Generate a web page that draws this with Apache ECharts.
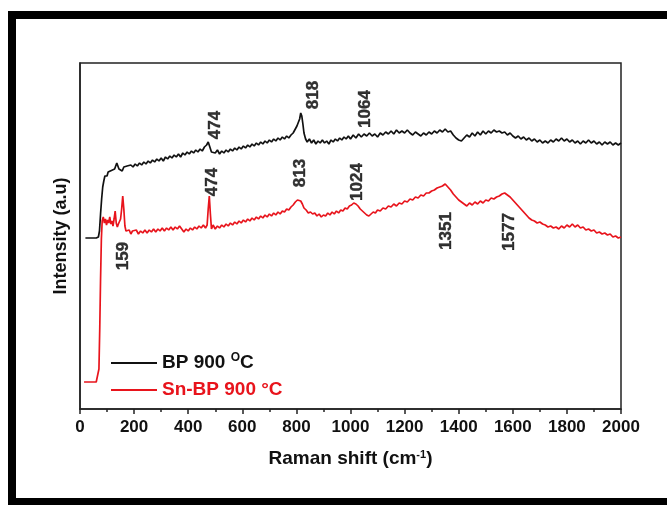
<!DOCTYPE html>
<html lang="en">
<head>
    <meta charset="UTF-8">
    <title>Raman spectra</title>
    <script src="https://cdn.jsdelivr.net/npm/echarts@6.0.0/dist/echarts.min.js"></script>
    <style>
        html, body { margin: 0; padding: 0; background: #fff; }
        #chart { width: 667px; height: 505px; }
    </style>
</head>
<body>
    <div id="chart"></div>
    <script>
        // Raman shift (cm-1), intensity (a.u)
        const bp900 = [
            [20,171],[40,171],[60,171],[68,172],[72,178],[76,195],[80,210],[84,222],[88,228],[92,233],[96,235],[100,233],[104,237],[108,235],[112,238],[116,236],[120,239],[124,237],[128,240],[132,243],[136,246],[140,243],[144,240],[150,241],[156,238],[162,242],[168,240],[174,243],[180,241],[188,244],[196,242],[204,245],[212,243],[220,246],[228,244],[236,247],[244,245],[252,248],[260,246],[268,249],[276,247],[284,250],[292,248],[300,251],[308,248],[316,252],[324,250],[332,253],[340,251],[348,254],[356,252],[364,255],[372,252],[380,256],[388,254],[396,257],[404,255],[412,258],[420,256],[428,259],[436,257],[444,260],[452,258],[460,262],[468,264],[474,267],[480,262],[486,257],[492,259],[500,256],[508,259],[516,255],[524,258],[532,256],[540,259],[548,257],[556,260],[564,258],[572,261],[580,259],[588,262],[596,260],[604,263],[612,261],[620,264],[628,262],[636,265],[644,263],[652,266],[660,264],[668,267],[676,265],[684,268],[692,266],[700,269],[708,267],[716,270],[724,268],[732,271],[740,269],[748,272],[756,270],[764,273],[772,271],[780,274],[788,276],[796,280],[802,283],[808,285],[812,290],[816,296],[820,293],[824,285],[828,276],[834,270],[840,267],[848,270],[856,266],[864,269],[872,265],[880,268],[888,266],[896,269],[904,266],[912,268],[920,265],[928,269],[936,267],[944,270],[952,268],[960,271],[968,269],[976,272],[984,270],[992,273],[1000,270],[1010,274],[1020,271],[1030,275],[1040,272],[1050,275],[1060,273],[1070,276],[1080,273],[1090,275],[1100,272],[1110,276],[1120,274],[1130,277],[1140,275],[1150,278],[1160,275],[1170,279],[1180,276],[1190,278],[1200,276],[1210,279],[1220,276],[1230,274],[1240,277],[1250,275],[1260,273],[1270,276],[1280,274],[1290,277],[1300,275],[1310,278],[1320,276],[1330,279],[1340,277],[1350,280],[1360,277],[1370,278],[1380,274],[1390,271],[1400,269],[1410,268],[1420,271],[1430,274],[1440,272],[1450,276],[1460,273],[1470,277],[1480,274],[1490,278],[1500,275],[1510,278],[1520,276],[1530,279],[1540,277],[1550,278],[1560,276],[1570,277],[1580,274],[1590,276],[1600,273],[1610,271],[1620,273],[1630,270],[1640,272],[1650,269],[1660,271],[1670,268],[1680,270],[1690,267],[1700,269],[1710,266],[1720,268],[1730,266],[1740,269],[1750,267],[1760,270],[1770,268],[1780,271],[1790,268],[1800,270],[1810,267],[1820,269],[1830,266],[1840,268],[1850,265],[1860,268],[1870,266],[1880,269],[1890,266],[1900,268],[1910,265],[1920,267],[1930,264],[1940,267],[1950,265],[1960,267],[1970,264],[1980,266],[1990,264],[2000,266]
        ];
        const snBp900 = [
            [15,27],[30,27],[45,27],[60,27],[66,28],[70,40],[73,80],[76,130],[79,170],[82,188],[86,192],[90,186],[94,190],[98,184],[102,189],[106,186],[110,192],[114,185],[118,188],[122,183],[126,190],[130,198],[134,186],[138,182],[142,185],[146,183],[150,190],[154,200],[158,213],[162,200],[166,183],[170,178],[176,176],[182,179],[188,175],[194,178],[200,176],[208,179],[216,175],[224,178],[232,176],[240,179],[248,176],[256,179],[264,177],[272,180],[280,177],[288,180],[296,178],[304,181],[312,178],[320,181],[328,179],[336,182],[344,179],[352,182],[360,180],[368,183],[376,180],[384,177],[392,180],[400,178],[408,181],[416,179],[424,182],[432,180],[440,183],[448,181],[456,184],[464,181],[470,184],[474,200],[478,213],[482,195],[486,180],[492,184],[500,180],[508,183],[516,181],[524,184],[532,182],[540,185],[548,183],[556,186],[564,184],[572,187],[580,185],[588,188],[596,186],[604,189],[612,187],[620,190],[628,188],[636,191],[644,189],[652,192],[660,190],[668,193],[676,191],[684,194],[692,192],[700,195],[708,193],[716,196],[724,194],[732,197],[740,195],[748,198],[756,197],[764,200],[772,199],[780,202],[788,204],[796,207],[804,209],[810,211],[816,208],[822,205],[828,201],[836,199],[844,196],[852,197],[860,195],[868,196],[876,193],[884,195],[892,192],[900,194],[908,193],[916,196],[924,194],[932,197],[940,195],[948,198],[956,196],[964,199],[972,198],[980,201],[988,200],[996,203],[1004,204],[1012,206],[1020,205],[1028,203],[1036,200],[1044,198],[1052,196],[1060,194],[1068,193],[1076,195],[1084,197],[1092,196],[1100,199],[1110,198],[1120,201],[1130,200],[1140,203],[1150,202],[1160,205],[1170,203],[1180,206],[1190,205],[1200,208],[1210,207],[1220,210],[1230,209],[1240,212],[1250,211],[1260,214],[1270,213],[1280,216],[1290,216],[1300,218],[1310,219],[1320,221],[1330,222],[1340,223],[1350,225],[1360,222],[1370,219],[1380,215],[1390,212],[1400,209],[1410,207],[1420,205],[1430,203],[1440,206],[1450,204],[1460,207],[1470,205],[1480,208],[1490,206],[1500,209],[1510,208],[1520,211],[1530,210],[1540,212],[1550,213],[1560,215],[1570,216],[1580,214],[1590,212],[1600,209],[1610,206],[1620,203],[1630,200],[1640,197],[1650,194],[1660,191],[1670,189],[1680,188],[1690,186],[1700,187],[1710,185],[1720,184],[1730,182],[1740,183],[1750,181],[1760,182],[1770,180],[1780,183],[1790,181],[1800,184],[1810,182],[1820,185],[1830,182],[1840,184],[1850,181],[1860,182],[1870,179],[1880,180],[1890,178],[1900,179],[1910,176],[1920,177],[1930,175],[1940,176],[1950,174],[1960,175],[1970,172],[1980,173],[1990,171],[2000,172]
        ];
        // peak labels: [shift, intensity] where the text sits, and the text
        const bpNotes = [[499, 284, '474'], [861, 314, '818'], [1054, 300, '1064']];
        const snNotes = [[488, 227, '474'], [813, 236, '813'], [1024, 227, '1024'],
                         [159, 153, '159'], [1353, 178, '1351'], [1586, 177, '1577']];
        const xTicks = { min: 0, max: 2000, step: 200 };

        const RED = '#e8141c';
        const FONT = 'Liberation Sans, Arial, sans-serif';

        const chart = echarts.init(document.getElementById('chart'), null, { renderer: 'canvas' });

        function noteSeries(notes) {
            return {
                type: 'scatter',
                symbolSize: 0,
                silent: true,
                data: notes.map(n => ({ value: [n[0], n[1]], name: n[2] })),
                label: {
                    show: true,
                    position: 'inside',
                    formatter: '{b}',
                    rotate: 90,
                    color: '#000',
                    textBorderColor: '#000',
                    textBorderWidth: 0.4,
                    fontFamily: FONT,
                    fontWeight: 'bold',
                    fontSize: 17
                },
                z: 5
            };
        }

        chart.setOption({
            animation: false,
            backgroundColor: '#fff',
            grid: {
                left: 80, right: 46, top: 63, bottom: 96,
                show: true, borderColor: '#222', borderWidth: 1.5
            },
            legend: {
                orient: 'vertical',
                left: 105, top: 347,
                itemWidth: 46, itemHeight: 14, itemGap: 8,
                itemStyle: { opacity: 0 },
                data: [
                    { name: 'BP 900', textStyle: { color: '#111' } },
                    { name: 'Sn-BP 900', textStyle: { color: RED } }
                ],
                formatter: name => name === 'BP 900' ? '{t|BP 900 }{s|O}{t|C}' : '{t|Sn-BP 900 °C}',
                textStyle: {
                    fontFamily: FONT,
                    fontWeight: 'bold',
                    rich: {
                        t: { fontSize: 19, fontWeight: 'bold', fontFamily: FONT, lineHeight: 22 },
                        s: { fontSize: 12, fontWeight: 'bold', fontFamily: FONT, verticalAlign: 'top', lineHeight: 12 }
                    }
                }
            },
            xAxis: {
                type: 'value',
                min: xTicks.min, max: xTicks.max, interval: xTicks.step,
                name: 'Raman shift (cm{s|-1})',
                nameLocation: 'middle',
                nameGap: 40,
                nameTextStyle: {
                    color: '#111', fontFamily: FONT, fontWeight: 'bold', fontSize: 19,
                    rich: {
                        s: { fontSize: 11, fontWeight: 'bold', fontFamily: FONT, color: '#111', verticalAlign: 'top', lineHeight: 11 }
                    }
                },
                axisLine: { lineStyle: { color: '#222', width: 1.5 } },
                axisTick: { length: 5, lineStyle: { color: '#222', width: 1.5 } },
                minorTick: { show: true, splitNumber: 2, length: 3, lineStyle: { color: '#222', width: 1.5 } },
                axisLabel: {
                    color: '#111', fontFamily: FONT, fontWeight: 'bold', fontSize: 17, margin: 10,
                    formatter: v => String(v)
                },
                splitLine: { show: false }
            },
            yAxis: {
                type: 'value',
                min: 0, max: 346,
                name: 'Intensity (a.u)',
                nameLocation: 'middle',
                nameGap: 10,
                nameTextStyle: { color: '#111', fontFamily: FONT, fontWeight: 'bold', fontSize: 18 },
                axisLine: { show: true, lineStyle: { color: '#222', width: 1.5 } },
                axisTick: { show: false },
                axisLabel: { show: false },
                splitLine: { show: false }
            },
            series: [
                {
                    name: 'BP 900', type: 'line', data: bp900,
                    symbol: 'none', lineStyle: { color: '#111', width: 1.7 },
                    itemStyle: { color: '#111' }
                },
                {
                    name: 'Sn-BP 900', type: 'line', data: snBp900,
                    symbol: 'none', lineStyle: { color: RED, width: 1.7 },
                    itemStyle: { color: RED }
                },
                noteSeries(bpNotes),
                noteSeries(snNotes)
            ],
            graphic: [{
                type: 'rect',
                shape: { x: 12, y: 15, width: 720, height: 487 },
                style: { fill: 'none', stroke: '#000', lineWidth: 8 },
                silent: true
            }]
        });
    </script>
</body>
</html>
